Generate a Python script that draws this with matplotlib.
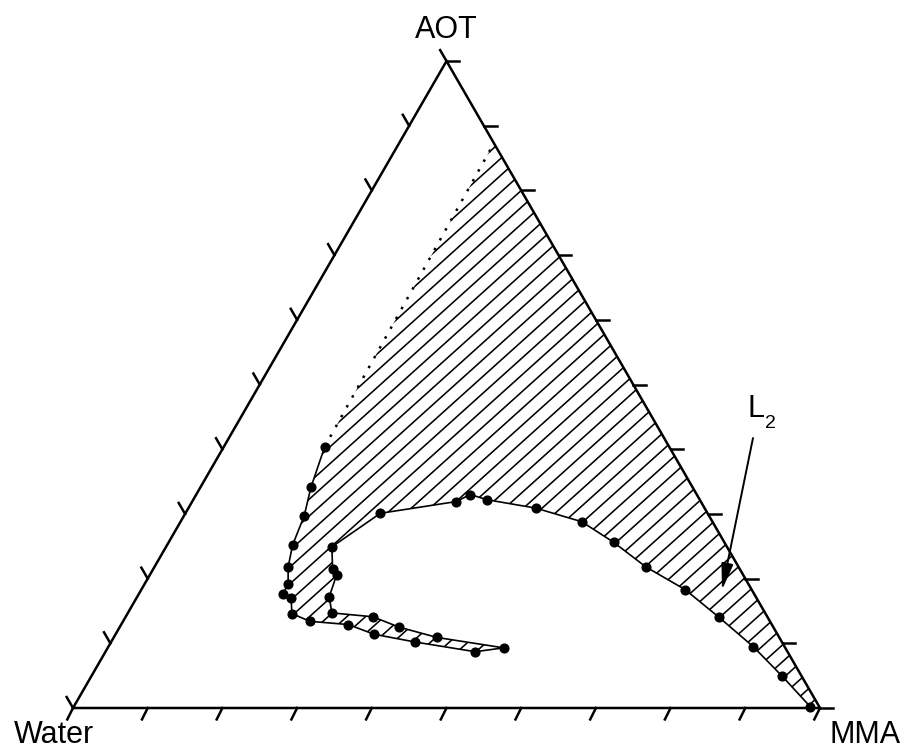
import numpy as np
import matplotlib
matplotlib.use("Agg")
import matplotlib.pyplot as plt
from matplotlib.patches import Polygon
from matplotlib.collections import LineCollection

plt.rcParams['font.family'] = ['Liberation Sans', 'DejaVu Sans']

# phase boundary, compositions in wt% (water = 100 - mma - aot)
mma = [13.5, 14.8, 16.1, 16.8, 17.9, 19.2, 19.3, 20.7, 22.0, 25.0,
       30.4, 34.6, 40.7, 49.5, 53.0, 43.3, 37.4, 33.1, 27.3, 25.7,
       25.0, 24.0, 22.2, 26.1, 35.3, 36.7, 39.3, 46.5, 53.7, 59.6,
       65.8, 72.8, 79.5, 86.3, 92.5, 98.6]
aot = [40.4, 34.1, 29.7, 25.2, 21.8, 19.2, 17.6, 17.0, 14.6, 13.4,
       12.9, 11.4, 10.2, 8.7, 9.3, 10.9, 12.5, 14.1, 14.7, 17.2,
       20.6, 21.5, 24.9, 30.1, 31.9, 33.0, 32.2, 30.9, 28.8, 25.6,
       21.8, 18.3, 14.0, 9.5, 4.9, 0.2]
water = [100 - m - a for m, a in zip(mma, aot)]

# end of the dotted tie line on the AOT-MMA side
edge_mma, edge_aot = 12.7, 87.3

ticks = np.arange(0, 101, 10)
H = np.sqrt(3) / 2


def to_xy(m, a):
    m = np.asarray(m) / 100.0
    a = np.asarray(a) / 100.0
    return m + a / 2, a * H


fig = plt.figure(figsize=(9.02, 7.5), dpi=100)
ax = fig.add_axes([73 / 902, 42 / 750, 747 / 902, 747 * H / 750])
ax.set_xlim(0, 1)
ax.set_ylim(0, H)
ax.axis('off')

# triangle frame
ax.plot([0, 1, 0.5, 0], [0, 0, H, 0], color='black', lw=1.8,
        solid_joinstyle='miter', clip_on=False)

# ticks
L = 0.017
for t in ticks / 100.0:
    ax.plot([t, t - 0.45 * L], [0, -0.9 * L], color='black', lw=1.8, clip_on=False)
    ex, ey = 1 - t / 2, t * H
    ax.plot([ex, ex + L], [ey, ey], color='black', lw=1.8, clip_on=False)
    lx, ly = t / 2, t * H
    ax.plot([lx, lx - 0.5 * L], [ly, ly + H * L], color='black', lw=1.8, clip_on=False)

# two-phase region, hatched
bx, by = to_xy(mma, aot)
ex, ey = to_xy(edge_mma, edge_aot)
poly = np.column_stack([np.r_[bx, 1.0, ex], np.r_[by, 0.0, ey]])
clip = Polygon(poly, closed=True, facecolor='none', edgecolor='none')
ax.add_patch(clip)

theta = np.deg2rad(42)
d = np.array([np.cos(theta), np.sin(theta)])
n = np.array([-np.sin(theta), np.cos(theta)])
s = 12.5 / 747
segs = []
for k in np.arange(-120, 120):
    p0 = np.array([0.5, 0.4]) + n * k * s
    segs.append([p0 - 2 * d, p0 + 2 * d])
hatch = LineCollection(segs, colors='black', linewidths=1.15)
ax.add_collection(hatch)
hatch.set_clip_path(clip)

# dotted tie line
ax.plot([bx[0], ex], [by[0], ey], color='black', lw=1.8,
        linestyle=(0, (1, 3.5)))

# boundary with data points
ax.plot(bx, by, color='black', lw=1.2, marker='o', markersize=6.3,
        markerfacecolor='black', markeredgecolor='black', clip_on=False)

# labels
fs = 22
ax.text(0.5, 0.8965, 'AOT', fontsize=fs, ha='center', va='baseline')
ax.text(-0.026, -0.047, 'Water', fontsize=fs, ha='center', va='baseline')
ax.text(1.060, -0.047, 'MMA', fontsize=fs, ha='center', va='baseline')
ax.text(0.9036, 0.3896, 'L', fontsize=fs, ha='left', va='baseline')
ax.text(0.926, 0.375, '2', fontsize=14, ha='left', va='baseline')

ax.annotate('', xy=(0.8688, 0.158), xytext=(0.9103, 0.3614),
            arrowprops=dict(arrowstyle='-|>,head_length=0.8,head_width=0.18',
                            mutation_scale=20, lw=1.4, color='black',
                            shrinkA=0, shrinkB=0))

fig.savefig('out.png', dpi=100)
